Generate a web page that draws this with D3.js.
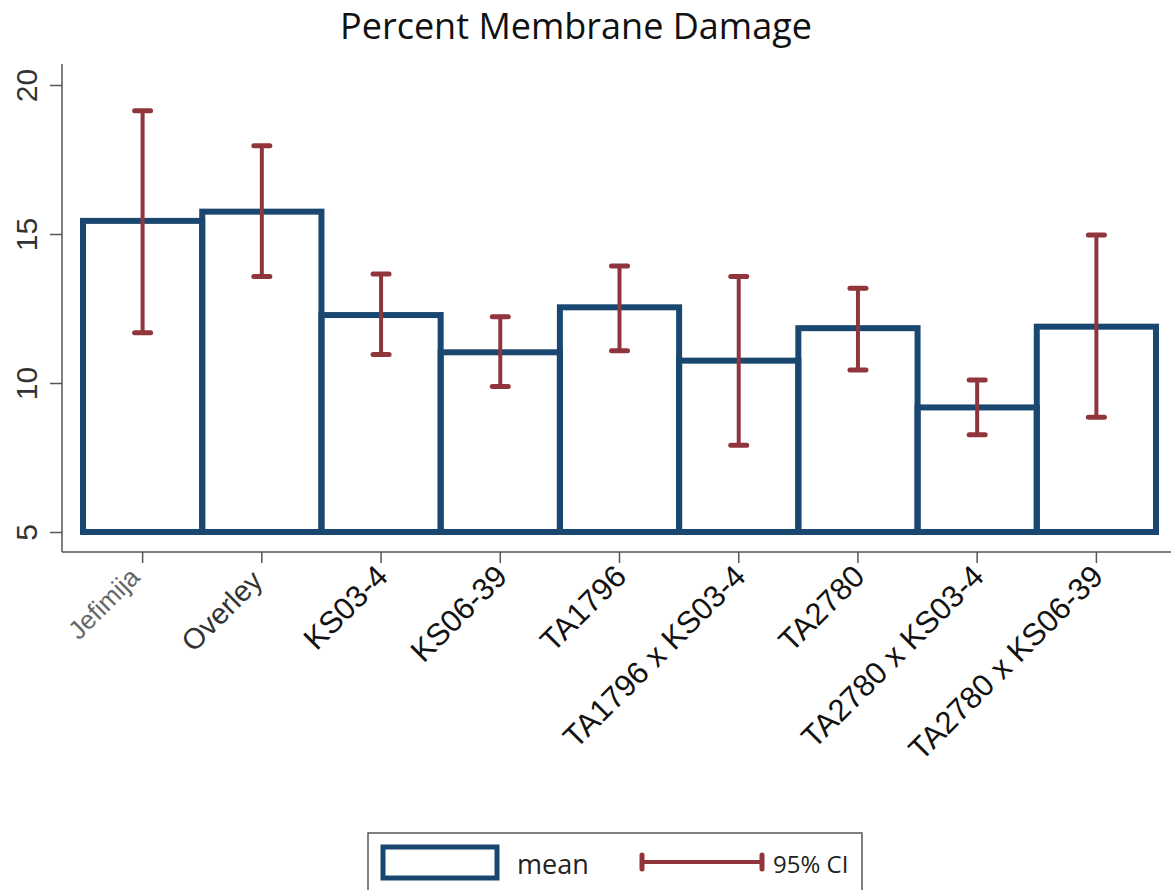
<!DOCTYPE html>
<html>
<head>
<meta charset="utf-8">
<script src="https://cdn.jsdelivr.net/npm/d3@7"></script>
<style>
  html, body { margin: 0; padding: 0; background: #fff; }
  svg { display: block; }
</style>
</head>
<body>
<svg id="chart" width="1171" height="890"></svg>
<script>
// Genotypes and their mean membrane damage (%) with 95% confidence limits
const categories = ["Jefimija", "Overley", "KS03-4", "KS06-39", "TA1796",
  "TA1796 x KS03-4", "TA2780", "TA2780 x KS03-4", "TA2780 x KS06-39"];
const means  = [15.44, 15.75, 12.28, 11.03, 12.54, 10.75, 11.84, 9.18, 11.89];
const ciLow  = [11.69, 13.57, 10.96, 9.88, 11.08, 7.91, 10.44, 8.26, 8.85];
const ciHigh = [19.14, 17.96, 13.66, 12.22, 13.93, 13.57, 13.18, 10.10, 14.97];
const yTicks = [5, 10, 15, 20];

// Per-label font size, colour and small nudge for the category axis
const labelSize  = [26, 29, 31, 31, 31, 31, 31, 31, 31];
const labelColor = ["#666", "#333", "#111", "#111", "#111", "#111", "#111", "#111", "#111"];
const labelNudge = [[-7, 7], [-5, 7], [0, 0], [0, 0], [0, 0], [0, 0], [0, 0], [0, 0], [0, 0]];

const BLUE = "#1a476f";
const RED  = "#90353b";

const data = categories.map((c, i) => ({ cat: c, mean: means[i], lo: ciLow[i], hi: ciHigh[i] }));

const svg = d3.select("#chart");

const axisX0 = 62, axisY0 = 552;
const x = d3.scaleBand().domain(categories).range([83, 1156]).padding(0);
const y = d3.scaleLinear().domain([5, 20]).range([532, 85]);

// Title
svg.append("text")
  .attr("x", 576).attr("y", 39)
  .attr("text-anchor", "middle")
  .style("font-family", "'Open Sans', sans-serif")
  .style("font-size", "36px")
  .style("fill", "#111")
  .text("Percent Membrane Damage");

// Bars (outline only), drawn from the axis floor of 5
svg.append("g").selectAll("rect")
  .data(data).join("rect")
  .attr("x", d => x(d.cat))
  .attr("width", x.bandwidth())
  .attr("y", d => y(d.mean))
  .attr("height", d => y(5) - y(d.mean))
  .attr("fill", "none")
  .attr("stroke", BLUE)
  .attr("stroke-width", 6);

// 95% CI whiskers
const capW = 10;
const ci = svg.append("g")
  .attr("stroke", RED)
  .attr("stroke-linecap", "round");
ci.selectAll("line.stem")
  .data(data).join("line")
  .attr("class", "stem")
  .attr("x1", d => x(d.cat) + x.bandwidth() / 2)
  .attr("x2", d => x(d.cat) + x.bandwidth() / 2)
  .attr("y1", d => y(d.lo))
  .attr("y2", d => y(d.hi))
  .attr("stroke-width", 4);
["lo", "hi"].forEach(k => {
  ci.selectAll("line.cap-" + k)
    .data(data).join("line")
    .attr("class", "cap-" + k)
    .attr("x1", d => x(d.cat) + x.bandwidth() / 2 - capW + 2)
    .attr("x2", d => x(d.cat) + x.bandwidth() / 2 + capW - 2)
    .attr("y1", d => y(d[k]))
    .attr("y2", d => y(d[k]))
    .attr("stroke-width", 5);
});

// Y axis
const gy = svg.append("g")
  .attr("transform", `translate(${axisX0},0)`)
  .call(d3.axisLeft(y).tickValues(yTicks).tickSize(12).tickSizeOuter(0));
gy.select(".domain").remove();
gy.selectAll(".tick line").attr("stroke", "#555").attr("stroke-width", 1.5);
gy.selectAll(".tick text")
  .attr("x", null).attr("dy", null)
  .attr("text-anchor", "middle")
  .attr("transform", "translate(-25,0) rotate(-90)")
  .style("font-family", "'Liberation Sans', Arial, sans-serif")
  .style("font-size", "30px")
  .style("fill", "#333");
svg.append("line")
  .attr("x1", axisX0).attr("x2", axisX0)
  .attr("y1", 64).attr("y2", axisY0)
  .attr("stroke", "#555").attr("stroke-width", 1.5);

// X axis
const gx = svg.append("g")
  .attr("transform", `translate(0,${axisY0})`)
  .call(d3.axisBottom(x).tickSize(11).tickSizeOuter(0));
gx.select(".domain").remove();
gx.selectAll(".tick line").attr("stroke", "#555").attr("stroke-width", 1.5);
gx.selectAll(".tick text")
  .attr("y", null).attr("dy", null)
  .attr("text-anchor", "end")
  .attr("transform", (d, i) => {
    const s = labelSize[i];
    const [nx, ny] = labelNudge[i];
    return `translate(${s * 0.6 - 10 + nx},${40 * s / 30 - 15 + ny}) rotate(-45)`;
  })
  .style("font-family", "'Liberation Sans', Arial, sans-serif")
  .style("font-size", (d, i) => labelSize[i] + "px")
  .style("fill", (d, i) => labelColor[i]);
svg.append("line")
  .attr("x1", axisX0).attr("x2", 1171)
  .attr("y1", axisY0).attr("y2", axisY0)
  .attr("stroke", "#555").attr("stroke-width", 1.5);

// Legend
const lg = svg.append("g");
lg.append("rect")
  .attr("x", 368).attr("y", 833)
  .attr("width", 494).attr("height", 70)
  .attr("fill", "#fff")
  .attr("stroke", "#555").attr("stroke-width", 1.5);
lg.append("rect")
  .attr("x", 383).attr("y", 847)
  .attr("width", 114).attr("height", 31)
  .attr("fill", "none")
  .attr("stroke", BLUE).attr("stroke-width", 5);
lg.append("text")
  .attr("x", 517).attr("y", 874)
  .style("font-family", "'Open Sans', sans-serif")
  .style("font-size", "27px")
  .style("fill", "#222")
  .text("mean");
lg.append("line")
  .attr("x1", 642).attr("x2", 762)
  .attr("y1", 862).attr("y2", 862)
  .attr("stroke", RED).attr("stroke-width", 4);
[642, 762].forEach(px => {
  lg.append("line")
    .attr("x1", px).attr("x2", px)
    .attr("y1", 855).attr("y2", 869)
    .attr("stroke", RED).attr("stroke-width", 5)
    .attr("stroke-linecap", "round");
});
lg.append("text")
  .attr("x", 773).attr("y", 873)
  .style("font-family", "'Open Sans', sans-serif")
  .style("font-size", "24px")
  .style("fill", "#222")
  .text("95% CI");
</script>
</body>
</html>
